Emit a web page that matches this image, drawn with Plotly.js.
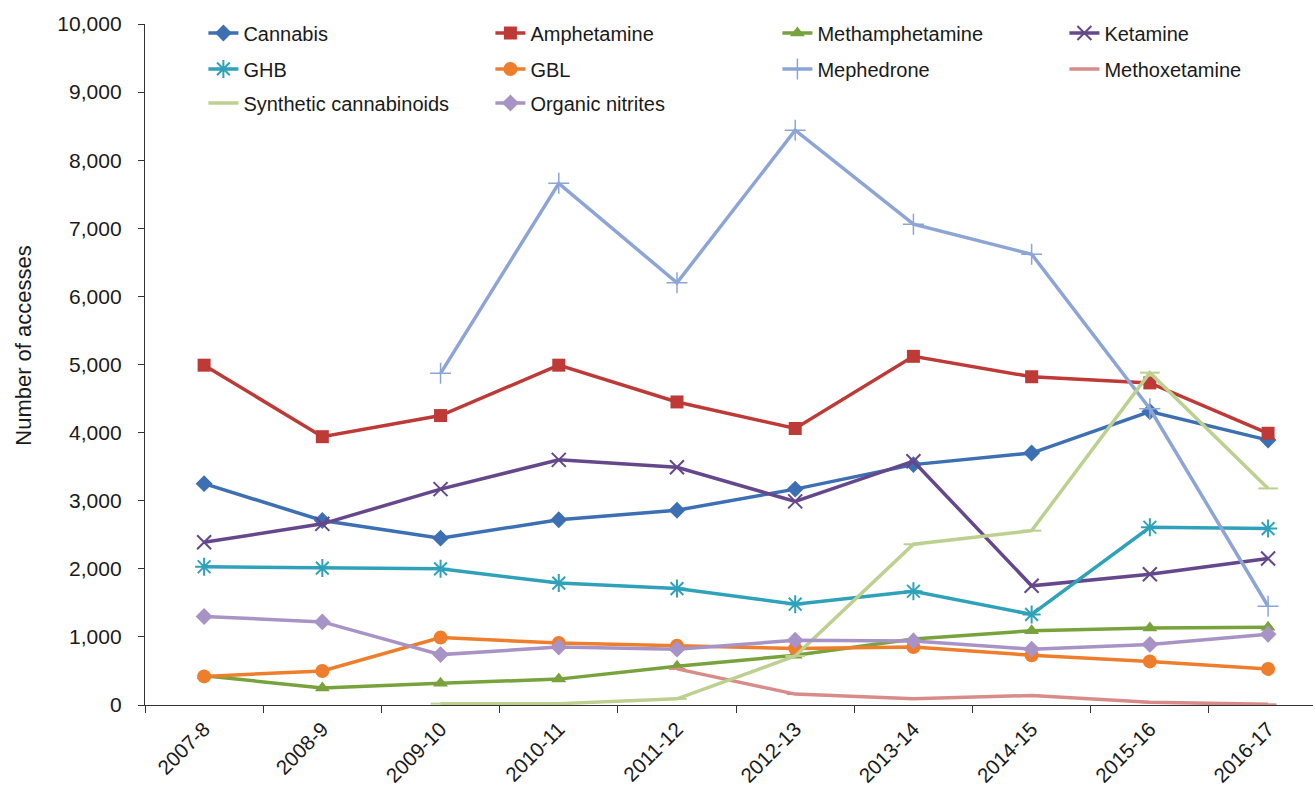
<!DOCTYPE html>
<html>
<head>
<meta charset="utf-8">
<script src="https://cdn.plot.ly/plotly-3.0.1.min.js"></script>
<style>
  html, body { margin: 0; padding: 0; background: #ffffff; }
  #chart { width: 1315px; height: 790px; }
</style>
</head>
<body>
<div id="chart"></div>
<script>
const categories = ['2007-8','2008-9','2009-10','2010-11','2011-12','2012-13','2013-14','2014-15','2015-16','2016-17'];

const cannabis        = [3250, 2710, 2450, 2720, 2860, 3170, 3530, 3700, 4310, 3890];
const amphetamine     = [4990, 3940, 4250, 4990, 4450, 4060, 5120, 4820, 4730, 3990];
const methamphetamine = [430, 250, 320, 380, 570, 730, 970, 1090, 1130, 1140];
const ketamine        = [2390, 2660, 3170, 3600, 3490, 2990, 3580, 1750, 1920, 2150];
const ghb             = [2030, 2010, 2000, 1790, 1710, 1480, 1670, 1330, 2610, 2590];
const gbl             = [420, 500, 990, 910, 870, 830, 850, 730, 640, 530];
const mephedrone      = [null, null, 4870, 7660, 6200, 8440, 7060, 6620, 4350, 1450];
const methoxetamine   = [null, null, null, null, 530, 160, 90, 140, 40, 10];
const syntheticCannabinoids = [null, null, 20, 20, 90, 720, 2360, 2560, 4880, 3180];
const organicNitrites = [1300, 1220, 740, 850, 820, 950, 940, 820, 890, 1040];

const seriesNames = ['Cannabis','Amphetamine','Methamphetamine','Ketamine','GHB','GBL','Mephedrone','Methoxetamine','Synthetic cannabinoids','Organic nitrites'];
const seriesValues = [cannabis, amphetamine, methamphetamine, ketamine, ghb, gbl, mephedrone, methoxetamine, syntheticCannabinoids, organicNitrites];
const colors = ['#3D6FB3','#BE3A36','#78A23C','#65478C','#2FA2BA','#EE7E2C','#8DA5D6','#D98B8A','#BCD08F','#A893C6'];
const markers = [
  {symbol:'diamond', size:13},
  {symbol:'square', size:13},
  {symbol:'triangle-up', size:13},
  {symbol:'x-thin-open', size:14, lw:2},
  {symbol:'asterisk-open', size:15, lw:2},
  {symbol:'circle', size:14},
  {symbol:'cross-thin-open', size:15, lw:1.5},
  {symbol:'line-ew-open', size:12, lw:2},
  {symbol:'line-ew-open', size:14, lw:2},
  {symbol:'diamond', size:13}
];
const legendIds = ['legend','legend','legend','legend','legend2','legend2','legend2','legend2','legend3','legend3'];

const traces = seriesNames.map((name, i) => {
  const m = markers[i];
  const marker = {symbol: m.symbol, size: m.size, color: colors[i]};
  if (m.lw) marker.line = {width: m.lw, color: colors[i]};
  else marker.line = {width: 0};
  return {
    type: 'scatter',
    mode: 'lines+markers',
    name: name,
    x: categories,
    y: seriesValues[i],
    line: {color: colors[i], width: 3.5},
    marker: marker,
    connectgaps: false,
    legend: legendIds[i]
  };
});

const legendBase = {
  orientation: 'h',
  entrywidth: 242,
  entrywidthmode: 'pixels',
  x: 0.05,
  xanchor: 'left',
  yanchor: 'middle',
  bgcolor: 'rgba(0,0,0,0)',
  font: {family: 'Liberation Sans, Arial, sans-serif', size: 20, color: '#1a1a1a'},
  traceorder: 'normal'
};

const layout = {
  width: 1315,
  height: 790,
  margin: {l: 145, r: 2, t: 24, b: 85, autoexpand: false},
  paper_bgcolor: '#ffffff',
  plot_bgcolor: '#ffffff',
  font: {family: 'Liberation Sans, Arial, sans-serif', size: 20, color: '#1a1a1a'},
  showlegend: true,
  legend: Object.assign({}, legendBase, {y: 0.9868}),
  legend2: Object.assign({}, legendBase, {y: 0.934}),
  legend3: Object.assign({}, legendBase, {y: 0.884}),
  xaxis: {
    type: 'category',
    range: [-0.5, 9.38],
    tickson: 'boundaries',
    ticks: 'outside',
    ticklen: 7,
    tickcolor: '#333',
    showline: true,
    linecolor: '#333',
    linewidth: 1.2,
    showgrid: false,
    zeroline: false,
    tickangle: -45,
    ticklabelstandoff: 3,
    automargin: false,
    tickfont: {size: 20.5, color: '#1a1a1a'}
  },
  yaxis: {
    range: [0, 10000],
    dtick: 1000,
    tickformat: ',d',
    ticks: 'outside',
    ticklen: 6,
    tickcolor: '#333',
    showline: true,
    linecolor: '#333',
    linewidth: 1.2,
    showgrid: false,
    zeroline: false,
    ticklabelstandoff: 12,
    automargin: false,
    tickfont: {size: 21, color: '#1a1a1a'}
  },
  annotations: [{
    text: 'Number of accesses',
    xref: 'paper', yref: 'paper',
    x: -0.1036, y: 0.529,
    xanchor: 'center', yanchor: 'middle',
    textangle: -90,
    showarrow: false,
    font: {size: 22, color: '#1a1a1a'}
  }]
};

Plotly.newPlot('chart', traces, layout, {displayModeBar: false, staticPlot: true});
</script>
</body>
</html>
